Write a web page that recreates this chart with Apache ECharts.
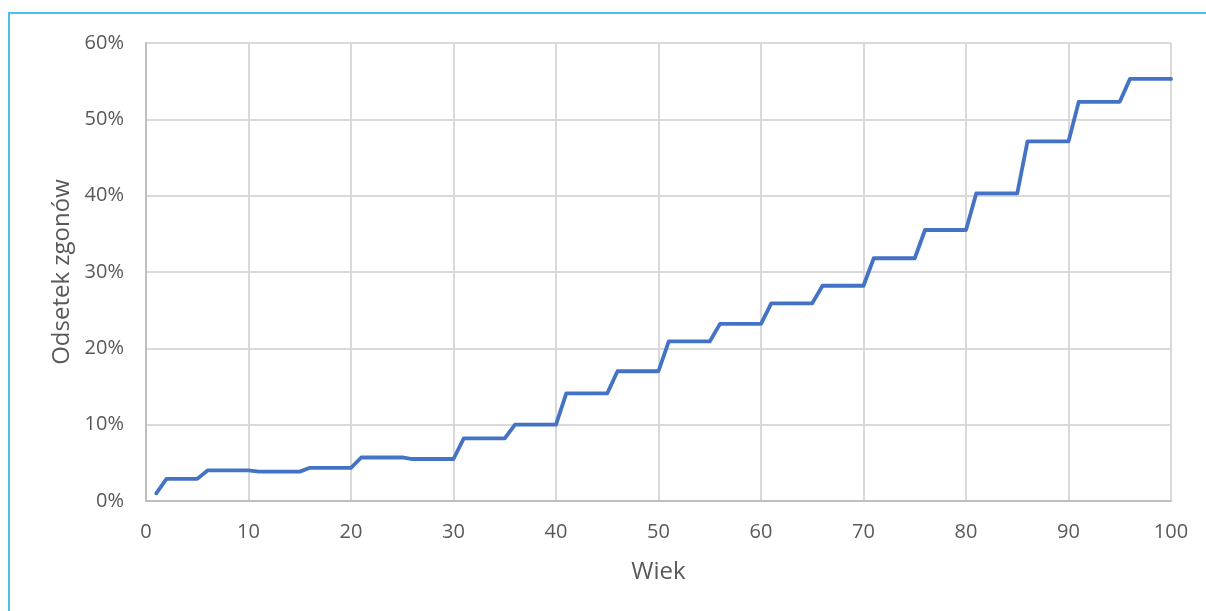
<!DOCTYPE html>
<html>
<head>
<meta charset="utf-8">
<script src="https://cdn.jsdelivr.net/npm/echarts@6/dist/echarts.min.js"></script>
<style>
  html, body { margin: 0; padding: 0; background: #ffffff; }
  #chart { width: 1206px; height: 611px; position: relative; }
  #frame {
    position: absolute; left: 8px; top: 12px; right: 0; bottom: 0;
    border-left: 2px solid #4DBFEF; border-top: 2px solid #4DBFEF;
    pointer-events: none;
  }
</style>
</head>
<body>
<div id="chart"></div>
<div id="frame"></div>
<script>
// Wiek (lata)
const ages = [
  1, 2, 3, 4, 5, 6, 7, 8, 9, 10,
  11, 12, 13, 14, 15, 16, 17, 18, 19, 20,
  21, 22, 23, 24, 25, 26, 27, 28, 29, 30,
  31, 32, 33, 34, 35, 36, 37, 38, 39, 40,
  41, 42, 43, 44, 45, 46, 47, 48, 49, 50,
  51, 52, 53, 54, 55, 56, 57, 58, 59, 60,
  61, 62, 63, 64, 65, 66, 67, 68, 69, 70,
  71, 72, 73, 74, 75, 76, 77, 78, 79, 80,
  81, 82, 83, 84, 85, 86, 87, 88, 89, 90,
  91, 92, 93, 94, 95, 96, 97, 98, 99, 100
];

// Odsetek zgonów (%)
const deathShare = [
  1.0, 2.9, 2.9, 2.9, 2.9, 4.0, 4.0, 4.0, 4.0, 4.0,
  3.85, 3.85, 3.85, 3.85, 3.85, 4.35, 4.35, 4.35, 4.35, 4.35,
  5.7, 5.7, 5.7, 5.7, 5.7, 5.5, 5.5, 5.5, 5.5, 5.5,
  8.2, 8.2, 8.2, 8.2, 8.2, 10.0, 10.0, 10.0, 10.0, 10.0,
  14.1, 14.1, 14.1, 14.1, 14.1, 17.0, 17.0, 17.0, 17.0, 17.0,
  20.9, 20.9, 20.9, 20.9, 20.9, 23.2, 23.2, 23.2, 23.2, 23.2,
  25.9, 25.9, 25.9, 25.9, 25.9, 28.2, 28.2, 28.2, 28.2, 28.2,
  31.8, 31.8, 31.8, 31.8, 31.8, 35.5, 35.5, 35.5, 35.5, 35.5,
  40.3, 40.3, 40.3, 40.3, 40.3, 47.1, 47.1, 47.1, 47.1, 47.1,
  52.3, 52.3, 52.3, 52.3, 52.3, 55.3, 55.3, 55.3, 55.3, 55.3
];

const xTitle = 'Wiek';
const yTitle = 'Odsetek zgonów';

const points = ages.map((a, i) => [a, deathShare[i]]);

const font = 'Open Sans, Noto Sans, sans-serif';
const textColor = '#595959';

const chart = echarts.init(document.getElementById('chart'), null, { renderer: 'canvas' });
chart.setOption({
  animation: false,
  backgroundColor: '#ffffff',
  grid: { left: 146, right: 35, top: 43, bottom: 110, containLabel: false },
  xAxis: {
    type: 'value',
    min: 0, max: 100, interval: 10,
    name: xTitle,
    nameLocation: 'middle',
    nameGap: 59,
    nameTextStyle: { color: textColor, fontSize: 24, fontFamily: font },
    axisLine: { show: true, lineStyle: { color: '#bfbfbf', width: 2 } },
    axisTick: { show: false },
    axisLabel: { color: textColor, fontSize: 20, fontFamily: font, margin: 21 },
    splitLine: { show: true, lineStyle: { color: '#d9d9d9', width: 2 } }
  },
  yAxis: {
    type: 'value',
    min: 0, max: 60, interval: 10,
    name: yTitle,
    nameLocation: 'middle',
    nameGap: 72,
    nameTextStyle: { color: textColor, fontSize: 24, fontFamily: font },
    axisLine: { show: true, lineStyle: { color: '#bfbfbf', width: 2 } },
    axisTick: { show: false },
    axisLabel: { color: textColor, fontSize: 20, fontFamily: font, margin: 22, formatter: '{value}%' },
    splitLine: { show: true, lineStyle: { color: '#d9d9d9', width: 2 } }
  },
  series: [{
    type: 'line',
    data: points,
    showSymbol: false,
    lineStyle: { color: '#4472C4', width: 3.8, join: 'round', cap: 'round' },
    itemStyle: { color: '#4472C4' }
  }]
});
</script>
</body>
</html>
